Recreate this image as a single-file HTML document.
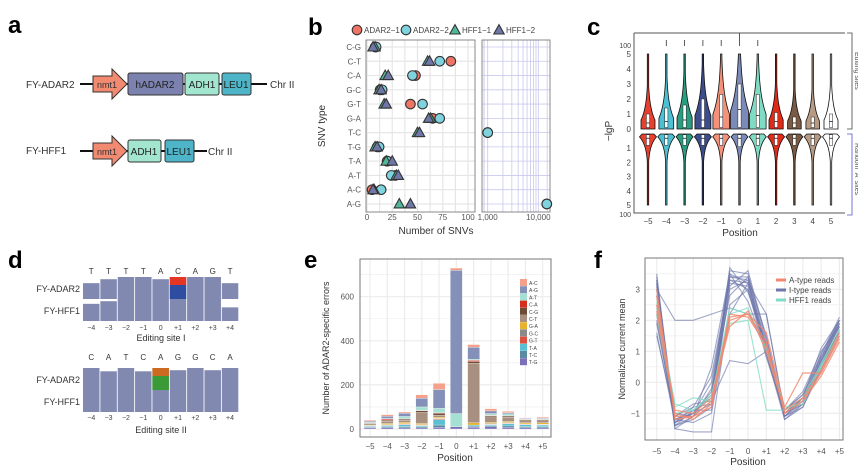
<!DOCTYPE html>
<html><head><meta charset="utf-8"><style>
body{margin:0;background:#fff}
svg{display:block;font-family:"Liberation Sans",Arial,sans-serif}
</style></head><body>
<svg id="fig" width="858" height="470" viewBox="0 0 858 470">
<g id="pa">
<text x="8" y="33" font-size="24" font-weight="bold">a</text>
<text x="26" y="88" font-size="10" fill="#333">FY-ADAR2</text>
<line x1="80" y1="84" x2="267" y2="84" stroke="#111" stroke-width="2"/>
<path d="M93 76 H112 V69 L127 84 L112 99 V92 H93 Z" fill="#f28a72" stroke="#333"/>
<text x="97" y="88" font-size="9" fill="#333">nmt1</text>
<rect x="128" y="73" width="55" height="22" rx="2" fill="#7b82b0" stroke="#333"/>
<text x="155" y="88" font-size="10" text-anchor="middle" fill="#222">hADAR2</text>
<rect x="185" y="73" width="34" height="22" rx="2" fill="#a2e6d0" stroke="#333"/>
<text x="202" y="88" font-size="10" text-anchor="middle" fill="#222">ADH1</text>
<rect x="222" y="73" width="29" height="22" rx="2" fill="#4eb5c8" stroke="#333"/>
<text x="236" y="88" font-size="10" text-anchor="middle" fill="#222">LEU1</text>
<text x="270" y="88" font-size="10" fill="#333">Chr II</text>
<text x="26" y="154" font-size="10" fill="#333">FY-HFF1</text>
<line x1="80" y1="151" x2="207" y2="151" stroke="#111" stroke-width="2"/>
<path d="M93 143 H112 V136 L127 151 L112 166 V159 H93 Z" fill="#f28a72" stroke="#333"/>
<text x="97" y="155" font-size="9" fill="#333">nmt1</text>
<rect x="128" y="140" width="33" height="22" rx="2" fill="#a2e6d0" stroke="#333"/>
<text x="144" y="155" font-size="10" text-anchor="middle" fill="#222">ADH1</text>
<rect x="165" y="140" width="29" height="22" rx="2" fill="#4eb5c8" stroke="#333"/>
<text x="179" y="155" font-size="10" text-anchor="middle" fill="#222">LEU1</text>
<text x="208" y="155" font-size="10" fill="#333">Chr II</text>
</g>
<g id="pb"></g>
<g id="pc"></g>
<g id="pd"></g>
<g id="pe"></g>
<g id="pf"></g>
</svg>
<script>
// ---------- Panel b data ----------
const snvTypes=["C-G","C-T","C-A","G-C","G-T","G-A","T-C","T-G","T-A","A-T","A-C","A-G"];
const adar21=[8,83,48,13,43,65,1000,10,20,28,5,14700];
const adar22=[9,72,45,15,55,72,1000,12,20,24,14,14700];
const hff11=[8,60,18,12,17,63,50,8,19,29,7,32];
const hff12=[6,62,21,14,19,61,52,10,25,31,6,43];
const bTicksLin=[0,25,50,75,100];
const bTicksLog=[1000,10000];
// ---------- Panel c data ----------
const cPositions=[-5,-4,-3,-2,-1,0,1,2,3,4,5];
const cUpperQ3=[1.0,1.4,1.6,2.0,2.3,3.0,2.3,1.1,0.8,0.8,1.0];
const cUpperMed=[0.4,0.5,0.6,0.6,0.8,1.3,0.9,0.5,0.4,0.4,0.5];
const cLowerQ3=[0.8,0.8,0.8,0.8,0.8,0.9,0.8,0.8,0.8,0.8,0.8];
const cLowerMed=[0.3,0.3,0.3,0.3,0.3,0.3,0.3,0.3,0.3,0.3,0.3];
const cColors=["#e8402e","#4ec0d4","#2a9d80","#3d4c8a","#f4917a","#7b8ab8","#7fdcc4","#e02a1a","#7a5a44","#b89b85","#ffffff"];
const cYTicks=[0,1,2,3,4,5];
// ---------- Panel d data ----------
const siteILetters=["T","T","T","T","A","C","A","G","T"];
const siteIADAR=[0.72,0.9,1,1,0.9,1,1,1,0.72];
const siteIHFF=[0.78,0.9,1,1,1,1,1,1,0.62];
const siteIILetters=["C","A","T","C","A","G","G","C","A"];
const siteIIADAR=[1,0.85,1,0.85,1,0.9,1,0.9,1];
const siteIIHFF=[1,1,1,1,1,1,1,1,1];
const dPosLabels=["−4","−3","−2","−1","0","+1","+2","+3","+4"];
// ---------- Panel e data ----------
const ePositions=["−5","−4","−3","−2","−1","0","+1","+2","+3","+4","+5"];
const eTypes=["T-G","T-C","T-A","G-T","G-C","G-A","C-T","C-G","C-A","A-T","A-G","A-C"];
const eColors=["#7a70b8","#5a8aa0","#5cc0d4","#e05040","#8a8a8a","#e8b22e","#a89080","#6e4b36","#d62d1f","#a6e0d2","#8590b8","#f4a08a"];
const eStacks=[
[5,4,4,0,2,3,6,3,0,3,5,5],
[6,5,5,2,2,5,10,5,5,3,10,7],
[5,6,8,2,3,6,10,5,2,10,15,5],
[5,5,5,2,3,5,50,8,2,15,40,15],
[8,10,25,3,2,5,10,8,3,20,85,28],
[10,0,0,0,0,0,0,0,0,60,650,10],
[8,5,5,0,0,10,270,8,5,5,55,12],
[10,5,5,2,3,5,25,5,2,8,12,10],
[8,6,10,2,3,5,20,5,2,8,5,6],
[6,5,8,2,2,5,10,4,2,3,3,2],
[5,5,8,2,2,6,10,4,2,4,3,4]];
const eYTicks=[0,200,400,600];
// ---------- Panel f data ----------
const fPositions=["−5","−4","−3","−2","−1","0","+1","+2","+3","+4","+5"];
const fYTicks=[-1,0,1,2,3];
const iTypeReads=[
[3.3,-1.3,-1.0,-0.7,3.4,3.3,1.2,-1.0,-0.5,0.6,1.8],
[3.5,-1.5,-1.1,-0.6,3.6,3.5,1.3,-1.1,-0.6,0.7,2.0],
[3.0,-1.2,-0.9,-0.5,3.2,3.1,1.0,-0.9,-0.4,0.8,1.9],
[3.2,-1.4,-1.2,-0.8,3.5,3.2,1.1,-1.1,-0.7,0.5,1.7],
[2.0,-1.1,-0.8,0.2,3.3,3.0,1.0,-1.0,-0.5,0.7,1.8],
[1.6,-1.3,-1.0,-0.3,2.8,3.4,1.5,-1.2,-0.8,0.5,1.6],
[3.1,-1.5,-1.6,-1.6,2.5,3.0,0.8,-1.0,-0.6,0.9,2.1],
[3.0,2.0,2.0,2.2,2.4,2.2,2.2,-1.0,-0.6,0.4,1.7],
[1.5,-1.1,-0.7,-0.6,0.7,0.6,1.0,-1.1,-0.8,0.4,1.5],
[3.4,-1.2,-1.0,-0.4,3.7,2.9,1.2,-1.0,-0.5,1.1,2.0],
[2.5,-1.3,-0.8,-0.7,3.0,3.3,0.9,-1.2,-0.7,0.6,1.9],
[3.3,-1.4,-0.9,-0.9,3.1,3.6,1.4,-0.9,-0.3,1.0,1.8],
[2.8,-1.0,-1.1,0.5,3.5,2.6,1.0,-1.1,-0.5,0.6,1.6],
[3.2,-1.2,-1.3,-1.0,2.2,3.2,2.2,-1.0,-0.7,0.8,2.0],
[2.2,-1.4,-1.1,-0.2,3.4,3.4,1.1,-1.0,-0.6,0.7,1.9],
[1.9,-1.2,-1.0,0.0,3.3,3.2,0.9,-0.9,-0.4,0.9,2.0]];
const aTypeReads=[
[2.3,-1.0,-1.2,-0.7,2.0,2.2,1.6,-0.8,0.3,0.3,1.5],
[2.8,-1.1,-1.1,-0.6,2.2,2.1,1.2,-1.0,-0.6,0.2,1.3],
[2.5,-0.9,-1.0,-0.5,1.8,2.3,1.0,-0.9,-0.5,0.4,1.6],
[3.0,-1.2,-1.1,-0.8,2.1,2.2,1.3,-1.0,-0.6,0.3,1.4]];
const hffReads=[
[2.6,-0.8,-0.5,-0.6,2.2,2.4,1.0,-0.9,-0.6,0.5,1.6],
[2.2,-1.0,-0.9,-0.4,1.9,2.0,-0.9,-0.9,-0.5,0.6,1.7],
[2.4,-0.7,-0.9,-0.5,2.4,2.2,1.1,-0.8,-0.7,0.5,1.5]];

const NS="http://www.w3.org/2000/svg";
function mk(parent,tag,attrs,txt){const e=document.createElementNS(NS,tag);for(const k in attrs)e.setAttribute(k,attrs[k]);if(txt!==undefined)e.textContent=txt;parent.appendChild(e);return e;}

// ================= Panel b =================
(function(){
const g=document.getElementById('pb');
const L0=366,L1=475,R0=482,R1=550,T=40,B=212;
const xLin=v=>367+v*1.01;
const xLog=v=>487.7+(Math.log10(v)-3)*50.6;
const xv=v=>v>150?xLog(v):xLin(v);
const yRow=i=>47+i*14.27;
let t=mk(g,'text',{x:308,y:35,'font-size':24,'font-weight':'bold'},'b');


mk(g,'rect',{x:L0,y:T,width:L1-L0,height:B-T,fill:'#fff'});
for(let v=0;v<=100;v+=12.5){mk(g,'line',{x1:xLin(v),x2:xLin(v),y1:T,y2:B,stroke:'#e6e6e6','stroke-width':1.2});}
for(let v=1000;v<=15000;v+= (v<10000?1000:5000)){mk(g,'line',{x1:xLog(v),x2:xLog(v),y1:T,y2:B,stroke:'#c8c8ee','stroke-width':0.8});}
mk(g,'line',{x1:R0+2,x2:R0+2,y1:T,y2:B,stroke:'#c8c8ee'});
snvTypes.forEach((s,i)=>{
 mk(g,'line',{x1:L0,x2:L1,y1:yRow(i),y2:yRow(i),stroke:'#e6e6e6','stroke-width':1.2});
 mk(g,'line',{x1:R0,x2:R1,y1:yRow(i),y2:yRow(i),stroke:'#c8c8ee','stroke-width':0.8});
 const l=mk(g,'text',{x:361,y:yRow(i)+3,'font-size':8,'text-anchor':'end',fill:'#555'},s);
 
 
});
mk(g,'rect',{x:L0,y:T,width:L1-L0,height:B-T,fill:'none',stroke:'#888'});
mk(g,'rect',{x:R0,y:T,width:R1-R0,height:B-T,fill:'none',stroke:'#888'});
bTicksLin.forEach(v=>{const l=mk(g,'text',{x:xLin(v),y:220,'font-size':8,'text-anchor':'middle',fill:'#555'},String(v));
 
 });
bTicksLog.forEach(v=>{const l=mk(g,'text',{x:xLog(v),y:220,'font-size':8,'text-anchor':'middle',fill:'#555'},v.toLocaleString('en-US'));
 
 });
let xt=mk(g,'text',{x:436,y:234,'font-size':10,'text-anchor':'middle',fill:'#333'},'Number of SNVs');


let yt=mk(g,'text',{x:0,y:0,'font-size':10,'text-anchor':'middle',fill:'#333',transform:'translate(325,126) rotate(-90)'},'SNV type');


const circ=(x,y,c)=>mk(g,'circle',{cx:x,cy:y,r:4.8,fill:c,stroke:'#333','stroke-width':1.1});
const tri=(x,y,c)=>mk(g,'path',{d:`M${x} ${y-5.4}L${x+5.2} ${y+4}L${x-5.2} ${y+4}Z`,fill:c,stroke:'#333','stroke-width':1.1});
snvTypes.forEach((s,i)=>{
 let e;
 e=circ(xv(adar21[i]),yRow(i),'#ee7564');
 e=circ(xv(adar22[i]),yRow(i),'#7fd3de');
 e=tri(xv(hff11[i]),yRow(i),'#4fb89a');
 e=tri(xv(hff12[i]),yRow(i),'#6f77a8');
});
// legend
let lx=357;
[["ADAR2−1","#ee7564","c"],["ADAR2−2","#7fd3de","c"],["HFF1−1","#4fb89a","t"],["HFF1−2","#6f77a8","t"]].forEach(([n,c,k])=>{
 const e=k=='c'?circ(lx,30,c):tri(lx,30,c);
 
 
 const tt=mk(g,'text',{x:lx+7,y:33,'font-size':8,fill:'#444'},n);
 
 
 lx+= n.length>6?49:44;
});
})();

// ================= Panel c =================
(function(){
const g=document.getElementById('pc');
const xP=p=>648+(p+5)*18.3;
const yU=v=>129-v*15;
const yL=v=>134+v*14.2;
let t=mk(g,'text',{x:587,y:35,'font-size':24,'font-weight':'bold'},'c');


mk(g,'path',{d:'M634 33 H845 M634 33 V213 H845',fill:'none',stroke:'#555'});
cYTicks.forEach(v=>{
 let a=mk(g,'text',{x:631,y:yU(v)+3,'font-size':8,'text-anchor':'end',fill:'#444'},String(v));
 
 if(v>0){let b=mk(g,'text',{x:631,y:yL(v)+3,'font-size':8,'text-anchor':'end',fill:'#444'},String(v));
 }
});
mk(g,'text',{x:631,y:48,'font-size':7,'text-anchor':'end',fill:'#444'},'100');
mk(g,'text',{x:631,y:217,'font-size':7,'text-anchor':'end',fill:'#444'},'100');
let yt=mk(g,'text',{x:0,y:0,'font-size':10,'text-anchor':'middle',fill:'#333',transform:'translate(612,131) rotate(-90)'},'−lgP');

cPositions.forEach((p,i)=>{
 const cx=xP(p),c=cColors[i];
 const W=6+cUpperQ3[i]*1.0, b=0.3+cUpperQ3[i]*0.3, tau=0.6+cUpperQ3[i]*0.4;
 let left=[],right=[];
 for(let v=0;v<=5.01;v+=0.1){const hw=Math.max(0.7,v<b?W:W*Math.exp(-(v-b)/tau));left.push([cx-hw,yU(v)]);right.push([cx+hw,yU(v)]);}
 let d='M'+left.map(q=>q.join(' ')).join('L')+'L'+right.reverse().map(q=>q.join(' ')).join('L')+'Z';
 let v1=mk(g,'path',{d:d,fill:c,stroke:'#111','stroke-width':0.8});
 
 mk(g,'rect',{x:cx-1.6,y:yU(cUpperQ3[i]),width:3.2,height:yU(0.1)-yU(cUpperQ3[i]),fill:'#fff',stroke:'#222','stroke-width':0.5});
 mk(g,'line',{x1:cx-1.6,x2:cx+1.6,y1:yU(cUpperMed[i]),y2:yU(cUpperMed[i]),stroke:'#222','stroke-width':0.8});
 // lower
 const W2=8.5,tau2=0.7;
 left=[];right=[];
 for(let v=0;v<=5.01;v+=0.1){const hw=Math.max(0.7,v<0.2?W2*(0.7+1.5*v):W2*Math.exp(-(v-0.2)/tau2));left.push([cx-hw,yL(v)]);right.push([cx+hw,yL(v)]);}
 d='M'+left.map(q=>q.join(' ')).join('L')+'L'+right.reverse().map(q=>q.join(' ')).join('L')+'Z';
 let v2=mk(g,'path',{d:d,fill:c,stroke:'#111','stroke-width':0.8});
 
 mk(g,'rect',{x:cx-1.6,y:yL(0.05),width:3.2,height:yL(cLowerQ3[i])-yL(0.05),fill:'#fff',stroke:'#222','stroke-width':0.5});
 mk(g,'line',{x1:cx-1.6,x2:cx+1.6,y1:yL(cLowerMed[i]),y2:yL(cLowerMed[i]),stroke:'#222','stroke-width':0.8});
 if(cUpperQ3[i]>1.3){mk(g,'line',{x1:cx,x2:cx,y1:p==0?33:40,y2:46,stroke:'#333','stroke-width':0.8});}
 let tl=mk(g,'text',{x:cx,y:224,'font-size':8,'text-anchor':'middle',fill:'#444'},p<0?'−'+(-p):String(p));
 
});
mk(g,'path',{d:'M847 33 H852 V129 H847',fill:'none',stroke:'#444','stroke-width':0.8});
mk(g,'path',{d:'M847 134 H852 V215 H847',fill:'none',stroke:'#55c','stroke-width':0.8});
let e1=mk(g,'text',{x:0,y:0,'font-size':7,fill:'#555',transform:'translate(855,52) rotate(90)'},'Editing sites');

let e2=mk(g,'text',{x:0,y:0,'font-size':7,fill:'#555',transform:'translate(855,143) rotate(90)'},"Random 'A' sites");

mk(g,'text',{x:740,y:236,'font-size':10,'text-anchor':'middle',fill:'#333'},'Position');
})();

// ================= Panel d =================
(function(){
const g=document.getElementById('pd');
let t=mk(g,'text',{x:8,y:268,'font-size':24,'font-weight':'bold'},'d');

const bx=i=>83+i*17.35, bw=16.5, box='#8189b0';
function block(letters,adar,hff,letY,aBot,hBot,posY,title,titleY,special){
 letters.forEach((l,i)=>{
  const a=mk(g,'text',{x:bx(i)+bw/2,y:letY,'font-size':8,'text-anchor':'middle',fill:'#333'},l);
  
  const h1=22*adar[i];
  const r1=mk(g,'rect',{x:bx(i),y:aBot-h1,width:bw,height:h1,fill:box});
  
  const h2=22*hff[i];
  const r2=mk(g,'rect',{x:bx(i),y:hBot-h2,width:bw,height:h2,fill:box});
  
  const p=mk(g,'text',{x:bx(i)+bw/2,y:posY,'font-size':7,'text-anchor':'middle',fill:'#444'},dPosLabels[i]);
  
 });
 const [si,c1,c2]=special;
 mk(g,'rect',{x:bx(si),y:aBot-22,width:bw,height:8,fill:c1});
 mk(g,'rect',{x:bx(si),y:aBot-14,width:bw,height:14,fill:c2});
 mk(g,'text',{x:80,y:aBot-7,'font-size':9,'text-anchor':'end',fill:'#333'},'FY-ADAR2');
 mk(g,'text',{x:80,y:hBot-7,'font-size':9,'text-anchor':'end',fill:'#333'},'FY-HFF1');
 const tt=mk(g,'text',{x:161,y:titleY,'font-size':9,'text-anchor':'middle',fill:'#333'},title);
 
}
block(siteILetters,siteIADAR,siteIHFF,274,299,321,330,'Editing site I',341,[5,'#e53525','#2f4da0']);
block(siteIILetters,siteIIADAR,siteIIHFF,360,390,412,420,'Editing site II',433,[4,'#cc6a20','#3a9a35']);
})();

// ================= Panel e =================
(function(){
const g=document.getElementById('pe');
const X0=360,X1=551,T=259,B=437;
const xP=i=>370+i*17.27;
const yV=v=>429-v*0.2205;
let t=mk(g,'text',{x:304,y:268,'font-size':24,'font-weight':'bold'},'e');

for(let v=0;v<=700;v+=100){mk(g,'line',{x1:X0,x2:X1,y1:yV(v),y2:yV(v),stroke:'#ececec','stroke-width':v%200?0.6:1.2});}
ePositions.forEach((p,i)=>mk(g,'line',{x1:xP(i),x2:xP(i),y1:T,y2:B,stroke:'#ececec','stroke-width':1.2}));
mk(g,'rect',{x:X0,y:T,width:X1-X0,height:B-T,fill:'none',stroke:'#777'});
eYTicks.forEach(v=>{const l=mk(g,'text',{x:354,y:yV(v)+3,'font-size':8,'text-anchor':'end',fill:'#555'},String(v));
 });
ePositions.forEach((p,i)=>{
 let cum=0;
 eStacks[i].forEach((v,k)=>{
  if(v<=0)return;
  const r=mk(g,'rect',{x:xP(i)-6,y:yV(cum+v),width:12,height:yV(cum)-yV(cum+v),fill:eColors[k],stroke:'#fff','stroke-width':0.3});
  
  
  cum+=v;
 });
 const l=mk(g,'text',{x:xP(i),y:449,'font-size':8,'text-anchor':'middle',fill:'#555'},p);
 
});
let xt=mk(g,'text',{x:455,y:461,'font-size':10,'text-anchor':'middle',fill:'#333'},'Position');

let yt=mk(g,'text',{x:0,y:0,'font-size':9,'text-anchor':'middle',fill:'#333',transform:'translate(329,348) rotate(-90)'},'Number of ADAR2-specific errors');

const order=[11,10,9,8,7,6,5,4,3,2,1,0];
order.forEach((k,j)=>{
 const r=mk(g,'rect',{x:520,y:279+j*7.2,width:7,height:7,fill:eColors[k]});
 
 const l=mk(g,'text',{x:529,y:285+j*7.2,'font-size':5,fill:'#444'},eTypes[k]);
 
});
})();

// ================= Panel f =================
(function(){
const g=document.getElementById('pf');
const X0=645,X1=843,T=258,B=440;
const xP=i=>656.7+i*18.27;
const yV=v=>382.3-v*31;
let t=mk(g,'text',{x:594,y:268,'font-size':24,'font-weight':'bold'},'f');

for(let v=-1.5;v<=3.5;v+=0.5){mk(g,'line',{x1:X0,x2:X1,y1:yV(v),y2:yV(v),stroke:'#ececec','stroke-width':Number.isInteger(v)?1.2:0.6});}
fPositions.forEach((p,i)=>mk(g,'line',{x1:xP(i),x2:xP(i),y1:T,y2:B,stroke:'#ececec','stroke-width':1.2}));
mk(g,'rect',{x:X0,y:T,width:X1-X0,height:B-T,fill:'none',stroke:'#777'});
fYTicks.forEach(v=>{const l=mk(g,'text',{x:640,y:yV(v)+3,'font-size':8,'text-anchor':'end',fill:'#555'},v<0?'−'+(-v):String(v));
 });
fPositions.forEach((p,i)=>{const l=mk(g,'text',{x:xP(i),y:454,'font-size':8,'text-anchor':'middle',fill:'#555'},p);
 });
const line=(arr,c,w,op,name)=>{
 const e=mk(g,'polyline',{points:arr.map((v,i)=>xP(i)+','+yV(v)).join(' '),fill:'none',stroke:c,'stroke-width':w,'stroke-opacity':op});
 
 
};
iTypeReads.forEach(a=>line(a,'#6d77ab',1.1,0.65,'i-type-read-line'));
hffReads.forEach(a=>line(a,'#7fdcc4',1.1,0.8,'hff1-read-line'));
aTypeReads.forEach(a=>line(a,'#f2876e',1.2,0.85,'a-type-read-line'));
[["A-type reads","#f2876e"],["I-type reads","#6d77ab"],["HFF1 reads","#7fdcc4"]].forEach(([n,c],j)=>{
 const s=mk(g,'line',{x1:776,x2:786,y1:280+j*10,y2:280+j*10,stroke:c,'stroke-width':3});
 
 const l=mk(g,'text',{x:789,y:283+j*10,'font-size':8,fill:'#444'},n);
 
});
let xt=mk(g,'text',{x:748,y:465,'font-size':10,'text-anchor':'middle',fill:'#333'},'Position');

let yt=mk(g,'text',{x:0,y:0,'font-size':9,'text-anchor':'middle',fill:'#333',transform:'translate(625,349) rotate(-90)'},'Normalized current mean');

})();
</script>
</body></html>
